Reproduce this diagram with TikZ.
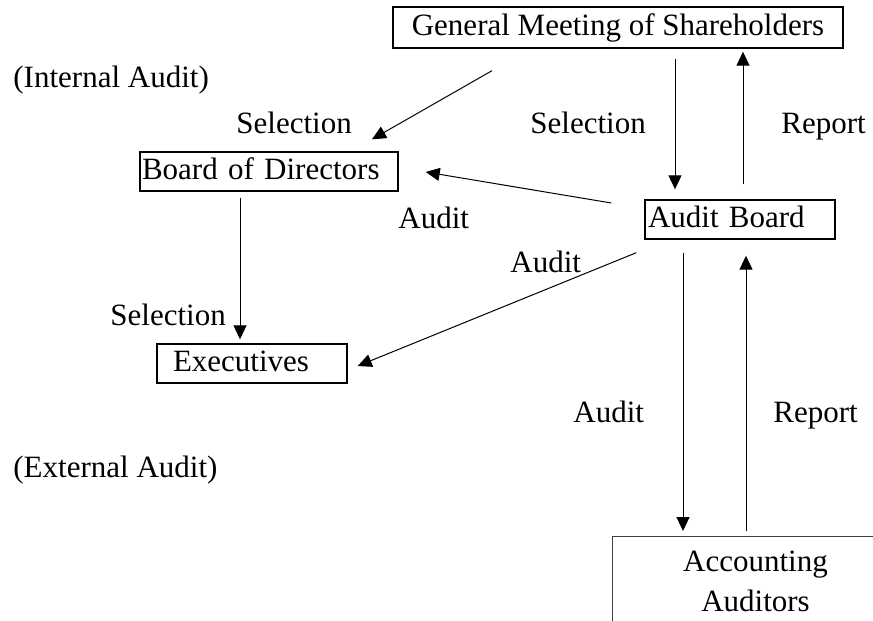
\documentclass[tikz,border=0pt]{standalone}
\usepackage{fontspec}
\setmainfont{Liberation Serif}
\usetikzlibrary{arrows.meta}

\begin{document}
\begin{tikzpicture}[x=0.5pt,y=-0.5pt,
    every node/.style={font=\fontsize{15.5}{20}\selectfont},
    box/.style={draw,line width=0.7pt,minimum height=19.5pt,inner ysep=0pt,text height=1em,text depth=0.2em,align=left},
    arr/.style={-{Triangle[length=7pt,width=6.5pt]},line width=0.5pt},
    lbl/.style={anchor=base west,inner sep=0pt}]
        \path[use as bounding box] (0,0) rectangle (873,621);
        % boxes
        \node[box,minimum width=225pt,minimum height=20.5pt,inner xsep=0pt] (gms) at (618,27.5) {General Meeting of Shareholders};
        \node[box,inner xsep=1pt,text width=127pt] (bod) at (269,171.5) {Board of Directors};
        \node[box,inner xsep=1.5pt,text width=92pt] (ab) at (740,219.5) {Audit Board};
        \node[box,inner xsep=8pt,text width=79pt] (exec) at (252,363.5) {Executives};
        \node[draw=black!75,line width=0.5pt,minimum width=143pt,minimum height=45pt,align=center,anchor=north west] (aa) at (612,536) {Accounting\\Auditors};
        % labels
        \node[lbl] (intl) at (13,87) {(Internal Audit)};
        \node[lbl] (extl) at (13,477) {(External Audit)};
        \node[lbl] (selA) at (236,133) {Selection};
        \node[lbl] (selB) at (530,133) {Selection};
        \node[lbl] (repA) at (781,133) {Report};
        \node[lbl] (audA) at (398,228) {Audit};
        \node[lbl] (audB) at (510,272) {Audit};
        \node[lbl] (selC) at (110,325) {Selection};
        \node[lbl] (audC) at (573,422) {Audit};
        \node[lbl] (repB) at (773,422) {Report};
        % arrows
        \draw[arr] ([shift={(-126,22)}]gms.south) -- ([shift={(103,-12)}]bod.north);
        \draw[arr] ([shift={(57,10)}]gms.south) -- ([shift={(-65,-10)}]ab.north);
        \draw[arr] ([shift={(3,-15)}]ab.north) -- ([shift={(125,3)}]gms.south);
        \draw[arr] ([shift={(-33,-16.5)}]ab.west) -- ([shift={(27,0.5)}]bod.east);
        \draw[arr] ([shift={(-29,6)}]bod.south) -- ([shift={(-12,-4)}]exec.north);
        \draw[arr] ([shift={(-8,13)}]ab.south west) -- ([shift={(10,2.5)}]exec.east);
        \draw[arr] ([shift={(-57,13)}]ab.south) -- ([shift={(71,-5)}]aa.north west);
        \draw[arr] ([shift={(134,-5)}]aa.north west) -- ([shift={(6,16)}]ab.south);
\end{tikzpicture}
\end{document}
